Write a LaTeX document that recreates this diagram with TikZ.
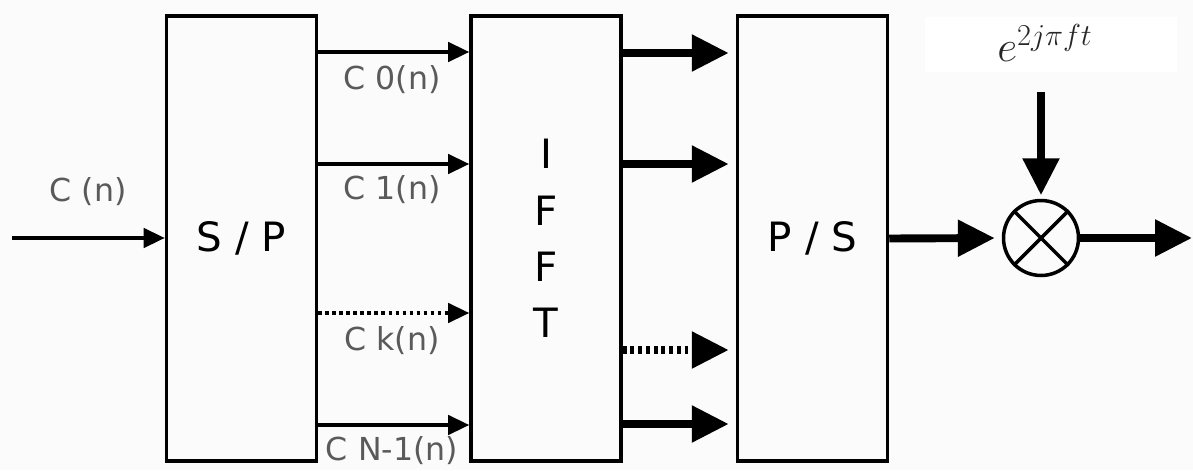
\documentclass[tikz,border=0pt]{standalone}
\usepackage{fontspec}
\setmainfont{DejaVu Sans}
\usepackage{amsmath}
\usetikzlibrary{arrows.meta}
\definecolor{gris}{RGB}{90,90,90}
\definecolor{fondo}{RGB}{251,251,251}

\begin{document}
\begin{tikzpicture}[x=0.02cm,y=-0.02cm,
    blok/.style={draw,line width=2pt,minimum width=3.0cm,minimum height=8.9cm,inner sep=0pt,font=\fontsize{23}{32}\selectfont,align=center},
    fino/.style={line width=2pt,-{Triangle[length=12pt,width=11pt]}},
    grueso/.style={line width=4.5pt,-{Triangle[length=21pt,width=20pt]},shorten >=4pt},
    etiq/.style={text=gris,font=\fontsize{18}{20}\selectfont}]
    \useasboundingbox (0,0) rectangle (1193,470);
    % Fondo
    \fill[fondo] (0,0) rectangle (1193,470);
    \fill[white] (925,17) rectangle (1177,72);

    % Bloques
    \node[blok] (sp) at (241.5,238.5) {S / P};
    \node[blok] (ifft) at (546,238.5) {I\\F\\F\\T};
    \node[blok] (ps) at (812.5,238.5) {P / S};
    \node[draw,circle,line width=2pt,minimum size=1.5cm,inner sep=0pt] (mix) at (1041,238) {};
    \draw[line width=2pt] (mix.north west) -- (mix.south east);
    \draw[line width=2pt] (mix.north east) -- (mix.south west);

    % Entrada
    \coordinate (ent) at (12,238);
    \node[etiq] (cn) at (88,192) {C (n)};
    \draw[fino] (ent) -- (sp.west |- ent);

    % Subportadoras S/P -> IFFT
    \coordinate (y0) at (0,52);
    \coordinate (y1) at (0,164);
    \coordinate (yk) at (0,313);
    \coordinate (yN) at (0,425);
    \draw[fino] (sp.east |- y0) -- (ifft.west |- y0);
    \draw[fino] (sp.east |- y1) -- (ifft.west |- y1);
    \draw[fino,dash pattern=on 2pt off 2pt] (sp.east |- yk) -- (ifft.west |- yk);
    \draw[fino] (sp.east |- yN) -- (ifft.west |- yN);
    \node[etiq] (c0) at (392,80) {C 0(n)};
    \node[etiq] (c1) at (392,190) {C 1(n)};
    \node[etiq] (ck) at (392,341) {C k(n)};
    \node[etiq] (cN) at (392,451) {C N-1(n)};

    % IFFT -> P/S
    \coordinate (z0) at (0,53);
    \coordinate (z1) at (0,164);
    \coordinate (zk) at (0,350);
    \coordinate (zN) at (0,424);
    \draw[grueso] (ifft.east |- z0) -- (ps.west |- z0);
    \draw[grueso] (ifft.east |- z1) -- (ps.west |- z1);
    \draw[grueso,dash pattern=on 2.2pt off 2.2pt] (ifft.east |- zk) -- (ps.west |- zk);
    \draw[grueso] (ifft.east |- zN) -- (ps.west |- zN);

    % Modulacion
    \node[font=\fontsize{27}{29}\selectfont,text=black!85] (expo) at (1045,43) {$e^{2j\pi ft}$};
    \coordinate (arriba) at (1041,92);
    \coordinate (salida) at (1192,238);
    \draw[grueso] (ps.east) -- (mix.west);
    \draw[grueso,shorten >=2pt] (arriba) -- (mix.north);
    \draw[grueso,shorten >=0pt] (mix.east) -- (salida);
\end{tikzpicture}
\end{document}
